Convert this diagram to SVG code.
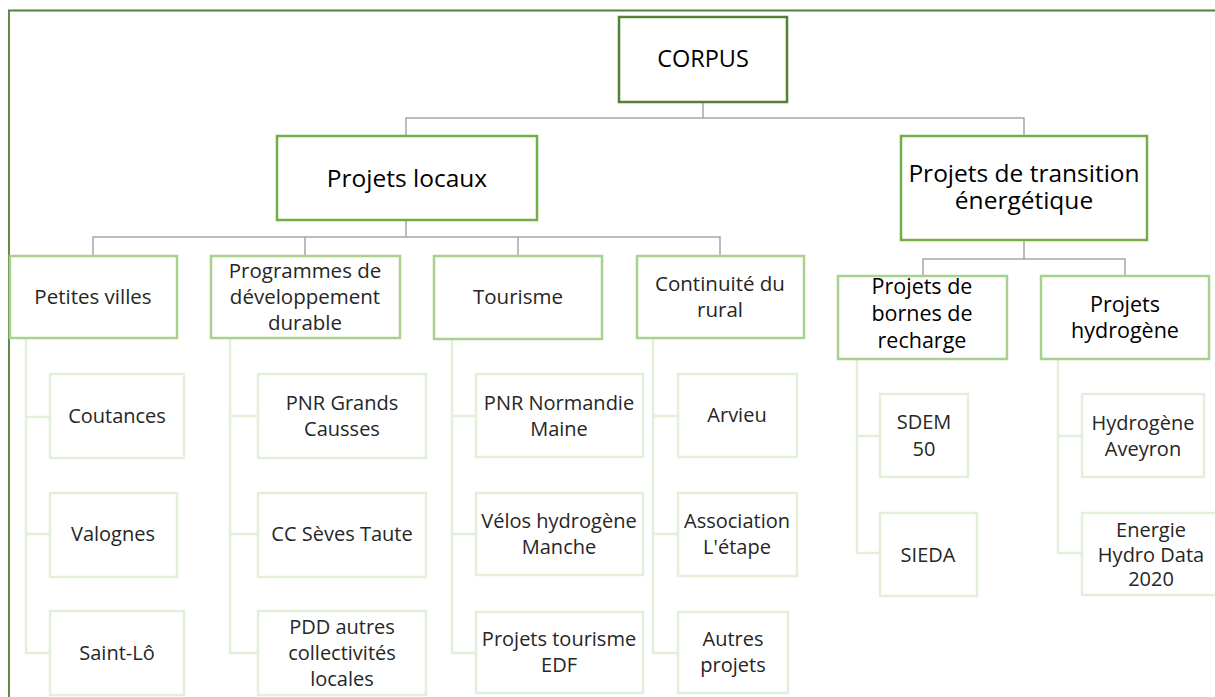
<svg xmlns="http://www.w3.org/2000/svg" width="1215" height="697" viewBox="0 0 1215 697">
<style>
text{font-family:"Open Sans","Noto Sans","Liberation Sans",sans-serif;text-anchor:middle;fill:#262626}
.t0{font-size:23.5px;fill:#000}
.t1{font-size:24.5px;fill:#000}
.t2{font-size:20.5px}
.t2r{font-size:21.5px;fill:#000}
.t3{font-size:20px}
.b0{fill:#fff;stroke:#538135;stroke-width:2.5}
.b1{fill:#fff;stroke:#70ad47;stroke-width:2.5}
.b2{fill:#fff;stroke:#a9d18e;stroke-width:2.5}
.b3{fill:#fff;stroke:#e2efda;stroke-width:2.5}
.cg{fill:none;stroke:#a6a6a6;stroke-width:1.5}
.cl{fill:none;stroke:#e2efda;stroke-width:2.5}
</style>
<path d="M8 10.5H1215M9 10V697" fill="none" stroke="#538135" stroke-width="1.8"/>
<g id="connectors">
<path class="cg" d="M703 102V118M406 136V118H1024V136"/>
<path class="cg" d="M406 220V237M93 256V237H720V256M305 237V256M518 237V256"/>
<path class="cg" d="M1024 240V259M923 276V259H1125V276"/>
<path class="cl" d="M26 338V653H50M26 417H50M26 534H50"/>
<path class="cl" d="M230 338V653H258M230 416H258M230 534H258"/>
<path class="cl" d="M452 339V653H476M452 416H476M452 534H476"/>
<path class="cl" d="M653 338V653H678M653 416H678M653 534H678"/>
<path class="cl" d="M857 359V553H880M857 436H880"/>
<path class="cl" d="M1058 359V553H1082M1058 436H1082"/>
</g>
<g id="corpus"><rect class="b0" x="619" y="17" width="168" height="85"/><text class="t0" x="703" y="67">CORPUS</text></g>
<g id="projets-locaux"><rect class="b1" x="277" y="136" width="260" height="84"/><text class="t1" x="407" y="187">Projets locaux</text></g>
<g id="projets-transition"><rect class="b1" x="901" y="136" width="246" height="104"/><text class="t1" x="1024" y="182">Projets de transition</text><text class="t1" x="1024" y="209">énergétique</text></g>
<g id="petites-villes"><rect class="b2" x="10" y="256" width="167" height="82"/><text class="t2" x="93" y="304">Petites villes</text></g>
<g id="programmes"><rect class="b2" x="211" y="256" width="189" height="82"/><text class="t2" x="305" y="278">Programmes de</text><text class="t2" x="305" y="304">développement</text><text class="t2" x="305" y="330">durable</text></g>
<g id="tourisme"><rect class="b2" x="434" y="256" width="168" height="83"/><text class="t2" x="518" y="304">Tourisme</text></g>
<g id="continuite"><rect class="b2" x="637" y="256" width="167" height="82"/><text class="t2" x="720" y="291">Continuité du</text><text class="t2" x="720" y="317">rural</text></g>
<g id="bornes"><rect class="b2" x="838" y="276" width="169" height="83"/><text class="t2r" x="922" y="294">Projets de</text><text class="t2r" x="922" y="321">bornes de</text><text class="t2r" x="922" y="348">recharge</text></g>
<g id="hydrogene"><rect class="b2" x="1041" y="276" width="168" height="83"/><text class="t2r" x="1125" y="312">Projets</text><text class="t2r" x="1125" y="338">hydrogène</text></g>
<g id="coutances"><rect class="b3" x="50" y="374" width="134" height="84"/><text class="t3" x="117" y="423">Coutances</text></g>
<g id="valognes"><rect class="b3" x="50" y="493" width="127" height="84"/><text class="t3" x="113" y="541">Valognes</text></g>
<g id="saint-lo"><rect class="b3" x="50" y="611" width="134" height="84"/><text class="t3" x="117" y="660">Saint-Lô</text></g>
<g id="pnr-grands-causses"><rect class="b3" x="258" y="374" width="168" height="84"/><text class="t3" x="342" y="410">PNR Grands</text><text class="t3" x="342" y="436">Causses</text></g>
<g id="cc-seves-taute"><rect class="b3" x="258" y="493" width="168" height="84"/><text class="t3" x="342" y="541">CC Sèves Taute</text></g>
<g id="pdd"><rect class="b3" x="258" y="611" width="168" height="84"/><text class="t3" x="342" y="634">PDD autres</text><text class="t3" x="342" y="660">collectivités</text><text class="t3" x="342" y="686">locales</text></g>
<g id="pnr-normandie"><rect class="b3" x="476" y="374" width="167" height="83"/><text class="t3" x="559" y="410">PNR Normandie</text><text class="t3" x="559" y="436">Maine</text></g>
<g id="velos"><rect class="b3" x="476" y="493" width="167" height="82"/><text class="t3" x="559" y="528">Vélos hydrogène</text><text class="t3" x="559" y="554">Manche</text></g>
<g id="tourisme-edf"><rect class="b3" x="476" y="612" width="167" height="81"/><text class="t3" x="559" y="646">Projets tourisme</text><text class="t3" x="559" y="672">EDF</text></g>
<g id="arvieu"><rect class="b3" x="678" y="374" width="119" height="83"/><text class="t3" x="737" y="422">Arvieu</text></g>
<g id="association"><rect class="b3" x="678" y="493" width="119" height="83"/><text class="t3" x="737" y="528">Association</text><text class="t3" x="737" y="554">L'étape</text></g>
<g id="autres"><rect class="b3" x="678" y="612" width="110" height="81"/><text class="t3" x="733" y="646">Autres</text><text class="t3" x="733" y="672">projets</text></g>
<g id="sdem"><rect class="b3" x="880" y="394" width="88" height="83"/><text class="t3" x="924" y="429">SDEM</text><text class="t3" x="924" y="456">50</text></g>
<g id="sieda"><rect class="b3" x="880" y="513" width="97" height="83"/><text class="t3" x="928" y="562">SIEDA</text></g>
<g id="hydrogene-aveyron"><rect class="b3" x="1082" y="394" width="122" height="83"/><text class="t3" x="1143" y="430">Hydrogène</text><text class="t3" x="1143" y="456">Aveyron</text></g>
<g id="energie-hydro"><rect class="b3" x="1082" y="513" width="140" height="82"/><text class="t3" x="1151" y="537">Energie</text><text class="t3" x="1151" y="562">Hydro Data</text><text class="t3" x="1151" y="586">2020</text></g>
</svg>
